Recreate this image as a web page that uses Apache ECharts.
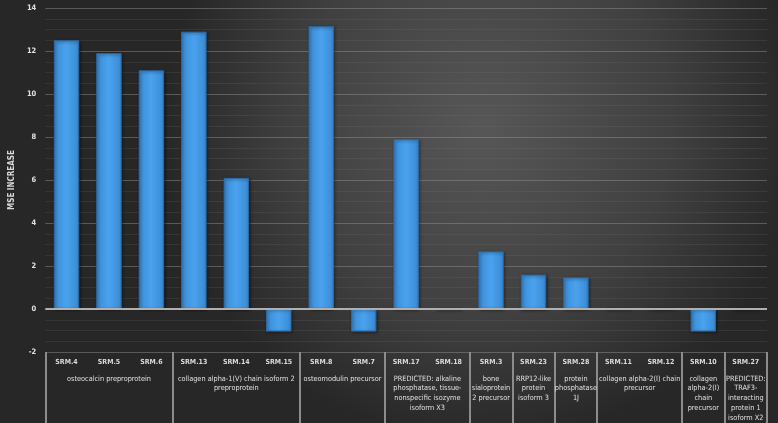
<!DOCTYPE html>
<html><head><meta charset="utf-8">
<script src="https://cdn.jsdelivr.net/npm/echarts@6/dist/echarts.min.js"></script>
<style>html,body{margin:0;padding:0;background:#2a2a2a}#c{width:778px;height:423px}</style>
</head><body><div id="c"></div>
<script>
const categories = ['SRM.4','SRM.5','SRM.6','SRM.13','SRM.14','SRM.15','SRM.8','SRM.7','SRM.17','SRM.18','SRM.3','SRM.23','SRM.28','SRM.11','SRM.12','SRM.10','SRM.27'];
const mseIncrease = [12.5, 11.9, 11.1, 12.9, 6.1, -1.05, 13.15, -1.05, 7.9, 0, 2.68, 1.6, 1.47, 0, 0, -1.05, 0];
const groupNames = [
  'osteocalcin preproprotein',
  'collagen alpha-1(V) chain isoform 2\npreproprotein',
  'osteomodulin precursor',
  'PREDICTED: alkaline\nphosphatase, tissue-\nnonspecific isozyme\nisoform X3',
  'bone\nsialoprotein\n2 precursor',
  'RRP12-like\nprotein\nisoform 3',
  'protein\nphosphatase\n1J',
  'collagen alpha-2(I) chain\nprecursor',
  'collagen\nalpha-2(I)\nchain\nprecursor',
  'PREDICTED:\nTRAF3-\ninteracting\nprotein 1\nisoform X2'
];
const groupSizes = [3,3,2,2,1,1,1,2,1,1];
const yTicks = {min: -2, max: 14, interval: 2};

const bounds = [0];
groupSizes.forEach(s => bounds.push(bounds[bounds.length-1] + s));
const centers = groupSizes.map((s,i) => bounds[i] + s/2);

const chart = echarts.init(document.getElementById('c'));
const font = '"Liberation Sans Narrow", "DejaVu Sans Condensed", "Liberation Sans", sans-serif';
chart.setOption({
  animation: false,
  backgroundColor: {
    type: 'radial', x: 0.62, y: 0.3, r: 0.75,
    colorStops: [{offset: 0, color: '#575757'}, {offset: 0.6, color: '#404040'}, {offset: 1, color: '#272727'}]
  },
  grid: {left: 35, right: 11, top: 8, bottom: 71, containLabel: false},
  xAxis: [
    {
      type: 'category', data: categories, position: 'bottom',
      axisLine: {show: false, onZero: false}, axisTick: {show: false},
      axisLabel: {color: '#dcdcdc', fontSize: 7, fontWeight: 'bold', fontFamily: font, margin: 7, interval: 0}
    },
    {
      type: 'value', min: 0, max: categories.length, position: 'bottom',
      axisLine: {show: false, onZero: false},
      splitLine: {show: false},
      axisTick: {show: true, customValues: bounds, length: 71, lineStyle: {color: '#8c8c8c', width: 2}},
      axisLabel: {
        show: true, customValues: centers, margin: 22, color: '#e0e0e0', fontSize: 7.3, fontFamily: font,
        lineHeight: 9.7, verticalAlign: 'top',
        formatter: function (v) {
          for (let i = 0; i < centers.length; i++) if (Math.abs(centers[i] - v) < 1e-6) return groupNames[i];
          return '';
        }
      }
    }
  ],
  yAxis: {
    type: 'value', min: yTicks.min, max: yTicks.max, interval: yTicks.interval,
    name: 'MSE INCREASE', nameLocation: 'middle', nameGap: 22, nameRotate: 90,
    nameTextStyle: {color: '#d8d8d8', fontSize: 8, fontWeight: 'bold', fontFamily: font},
    axisLine: {show: false}, axisTick: {show: false},
    axisLabel: {color: '#e0e0e0', fontSize: 7.5, fontWeight: 'bold', fontFamily: font, margin: 9},
    splitLine: {show: true, lineStyle: {color: 'rgba(150,150,150,0.45)', width: 1}},
    minorTick: {show: false, splitNumber: 4},
    minorSplitLine: {show: true, lineStyle: {color: 'rgba(120,120,120,0.18)', width: 1}}
  },
  series: [{
    type: 'bar', data: mseIncrease, xAxisIndex: 0, barWidth: '60%',
    itemStyle: {
      color: {type: 'linear', x: 0, y: 0, x2: 1, y2: 0,
        colorStops: [{offset: 0, color: '#3b8cd6'}, {offset: 0.5, color: '#4aa2ee'}, {offset: 1, color: '#3a89d2'}]},
      borderColor: '#2c6aa6', borderWidth: 1,
      shadowColor: 'rgba(0,0,0,0.5)', shadowBlur: 3, shadowOffsetX: 1, shadowOffsetY: 1
    },
    markLine: {
      silent: true, symbol: 'none', label: {show: false},
      lineStyle: {color: '#b0b0b0', width: 2, type: 'solid'},
      data: [{yAxis: 0}]
    }
  }]
});
</script></body></html>
